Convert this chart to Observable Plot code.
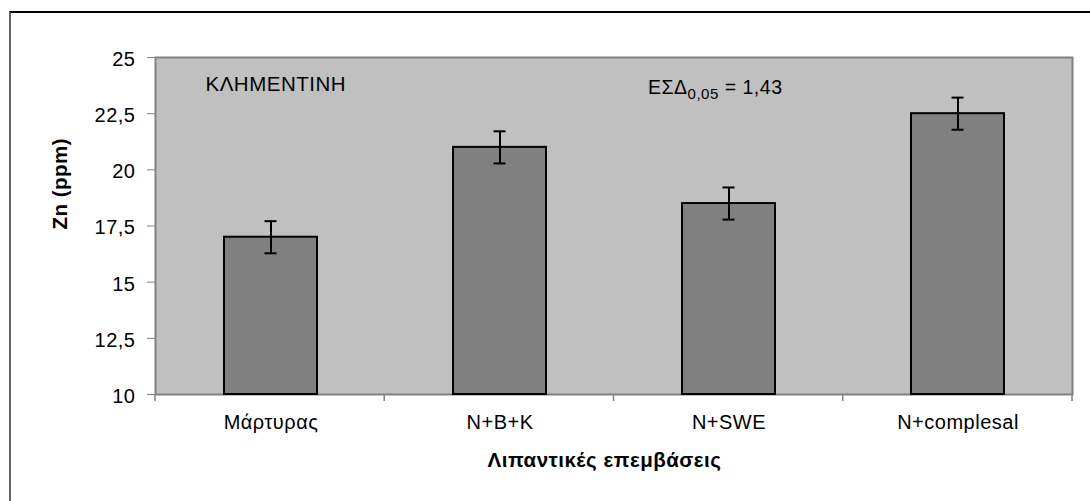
<!DOCTYPE html>
<html>
<head>
<meta charset="utf-8">
<script src="https://cdn.jsdelivr.net/npm/d3@7"></script>
<script src="https://cdn.jsdelivr.net/npm/@observablehq/plot@0.6"></script>
<style>
  html, body { margin: 0; padding: 0; background: #fff; overflow: hidden; }
  #wrap { position: relative; width: 1090px; height: 501px; }
  #border { position: absolute; left: 9px; top: 11px; width: 1100px; height: 520px;
            border-left: 2px solid #666; border-top: 2px solid #000; box-sizing: border-box; pointer-events: none; }
  #chart { position: absolute; left: 0; top: 0; }
</style>
</head>
<body>
<div id="wrap"><div id="chart"></div><div id="border"></div></div>
<script>
// ---- data ----
const categories = ["Μάρτυρας", "N+B+K", "N+SWE", "N+complesal"];
const values = [17, 21, 18.5, 22.5];
const errors = [0.715, 0.715, 0.715, 0.715];
const yTicks = [10, 12.5, 15, 17.5, 20, 22.5, 25];
const yDomain = [10, 25];
const panelLabel = "ΚΛΗΜΕΝΤΙΝΗ";
const lsdParts = ["ΕΣΔ", "0,05", " = 1,43"];
const xTitle = "Λιπαντικές επεμβάσεις";
const yTitle = "Zn (ppm)";

const data = categories.map((c, i) => ({cat: c, value: values[i], err: errors[i]}));
const fmt = d => String(d).replace(".", ",");

const W = 1090, H = 501;
const M = {top: 57, right: 18, bottom: 107, left: 155};

function boundaryTicks() {
  const step = (W - M.left - M.right) / categories.length;
  const g = d3.create("svg:g").attr("stroke", "#808080").attr("stroke-width", 1.5);
  for (let i = 0; i <= categories.length; i++) {
    const x = M.left + i * step;
    g.append("line").attr("x1", x).attr("x2", x)
      .attr("y1", H - M.bottom).attr("y2", H - M.bottom + 7);
  }
  return g.node();
}

function lsdLabel() {
  const t = d3.create("svg:text")
    .attr("x", M.left + 493).attr("y", M.top + 37)
    .attr("text-anchor", "start")
    .attr("fill", "#000").style("font-size", "19.5px").style("white-space", "pre");
  t.append("tspan").text(lsdParts[0]);
  t.append("tspan").attr("dy", 5).style("font-size", "15px").text(lsdParts[1]);
  t.append("tspan").attr("dy", -5).text(lsdParts[2]);
  return t.node();
}

const chart = Plot.plot({
  width: W,
  height: H,
  marginTop: M.top,
  marginRight: M.right,
  marginBottom: M.bottom,
  marginLeft: M.left,
  style: {fontFamily: "'Liberation Sans', Arial, sans-serif", fontSize: "20px", color: "#000", background: "transparent", overflow: "visible", letterSpacing: "0.5px"},
  x: {domain: categories, paddingInner: 0.594, paddingOuter: 0.297, axis: null},
  y: {domain: yDomain, axis: null},
  marks: [
    Plot.frame({fill: "#c0c0c0", stroke: "#808080", strokeWidth: 2}),
    Plot.axisY({ticks: yTicks, tickSize: 8, tickFormat: () => "", stroke: "#808080", label: null}),
    Plot.axisY({ticks: yTicks, tickSize: 0, tickPadding: 20, tickFormat: fmt, fill: "#000", label: null, fontSize: 20, dy: 2}),
    Plot.axisX({tickSize: 0, tickPadding: 20, label: null, fill: "#000", fontSize: 20}),
    boundaryTicks,
    Plot.barY(data, {x: "cat", y1: yDomain[0], y2: "value", fill: "#808080", stroke: "#000", strokeWidth: 2}),
    Plot.ruleX(data, {x: "cat", y1: d => d.value - d.err, y2: d => d.value + d.err, stroke: "#000", strokeWidth: 2}),
    Plot.tickY(data, {x: "cat", y: d => d.value - d.err, insetLeft: 40.5, insetRight: 40.5, stroke: "#000", strokeWidth: 2}),
    Plot.tickY(data, {x: "cat", y: d => d.value + d.err, insetLeft: 40.5, insetRight: 40.5, stroke: "#000", strokeWidth: 2}),
    Plot.text([panelLabel], {frameAnchor: "top-left", dx: 50, dy: 27, textAnchor: "start", lineAnchor: "middle", fontSize: 20.5, fill: "#000"}),
    lsdLabel,
    Plot.text([xTitle], {frameAnchor: "bottom", dx: -9.5, dy: 66, lineAnchor: "middle", fontWeight: "bold", fontSize: 20.5, fill: "#000"}),
    Plot.text([yTitle], {frameAnchor: "left", dx: -95, dy: 3.5, rotate: -90, lineAnchor: "middle", fontWeight: "bold", fontSize: 20.5, fill: "#000"})
  ]
});
document.getElementById("chart").appendChild(chart);
</script>
</body>
</html>
